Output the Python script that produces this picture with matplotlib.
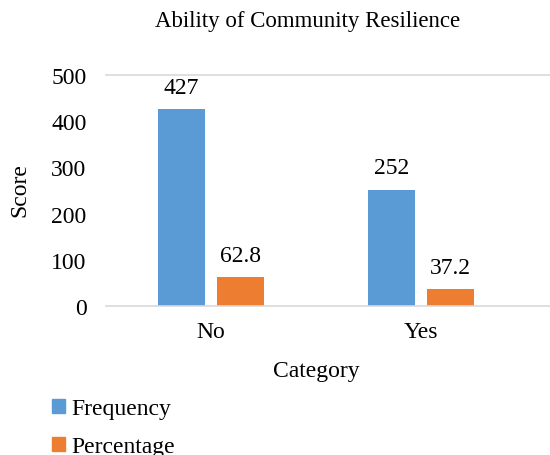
import matplotlib.pyplot as plt
from matplotlib.patches import Patch
import numpy as np

plt.rcParams['font.family'] = ['Liberation Serif', 'DejaVu Serif']

categories = ['No', 'Yes']
frequency = [427, 252]
percentage = [62.8, 37.2]
freq_labels = ['427', '252']
pct_labels = ['62.8', '37.2']

blue = '#5B9BD5'
orange = '#ED7D31'

fig = plt.figure(figsize=(5.5, 4.56), dpi=100)
ax = fig.add_axes([106 / 550, 149 / 456, 444 / 550, 231 / 456])

x = np.arange(len(categories))
w = 0.224
b1 = ax.bar(x - 0.142, frequency, w, color=blue)
b2 = ax.bar(x + 0.142, percentage, w, color=orange)
ax.bar_label(b1, labels=freq_labels, padding=8, fontsize=17)
ax.bar_label(b2, labels=pct_labels, padding=8, fontsize=17)

ax.set_xlim(-0.5, 1.614)
ax.set_ylim(0, 500)
ax.set_yticks([0, 100, 200, 300, 400, 500])
ax.set_xticks(x)
ax.set_xticklabels(categories)
ax.tick_params(length=0, labelsize=17)
ax.tick_params(axis='y', pad=14)
ax.tick_params(axis='x', pad=11)
for s in ['top', 'right', 'left']:
    ax.spines[s].set_visible(False)
ax.spines['bottom'].set_color('#d9d9d9')
ax.spines['bottom'].set_linewidth(1.2)
ax.axhline(500, color='#d9d9d9', lw=1.2, clip_on=False)

fig.text(308 / 550, 1 - 22 / 456, 'Ability of Community Resilience', fontsize=16.5,
         ha='center', va='center')
fig.text(316 / 550, 1 - 372 / 456, 'Category', fontsize=17, ha='center', va='center')
fig.text(20 / 550, 1 - 190 / 456, 'Score', fontsize=17, ha='center', va='center',
         rotation=90)

handles = [Patch(color=blue, label='Frequency'), Patch(color=orange, label='Percentage')]
fig.legend(handles=handles, loc='upper left', bbox_to_anchor=(43 / 550, 1 - 390 / 456),
           frameon=False, fontsize=17, handlelength=0.55, handleheight=0.55,
           handletextpad=0.25, labelspacing=0.7, borderaxespad=0)

fig.savefig('out.png', dpi=100)
